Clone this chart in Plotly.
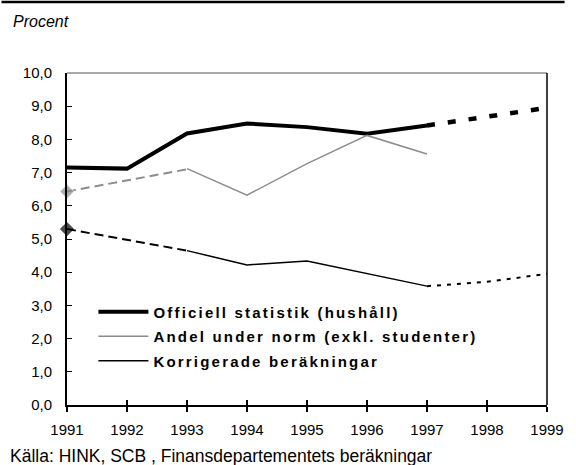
import plotly.graph_objects as go

years = [1991, 1992, 1993, 1994, 1995, 1996, 1997, 1998, 1999]
year_labels = ["1991", "1992", "1993", "1994", "1995", "1996", "1997", "1998", "1999"]
y_ticks = [0, 1, 2, 3, 4, 5, 6, 7, 8, 9, 10]

# Officiell statistik (hushåll)
off_years = [1991, 1992, 1993, 1994, 1995, 1996, 1997]
off_vals = [7.15, 7.12, 8.18, 8.48, 8.37, 8.17, 8.42]
off_fc_years = [1997, 1998, 1999]
off_fc_vals = [8.42, 8.68, 8.95]

# Andel under norm (exkl. studenter)
norm_dash_years = [1991, 1993]
norm_dash_vals = [6.43, 7.1]
norm_years = [1993, 1994, 1995, 1996, 1997]
norm_vals = [7.12, 6.32, 7.27, 8.12, 7.56]

# Korrigerade beräkningar
kor_dash_years = [1991, 1993]
kor_dash_vals = [5.3, 4.65]
kor_years = [1993, 1994, 1995, 1996, 1997]
kor_vals = [4.65, 4.22, 4.34, 3.95, 3.58]
kor_fc_years = [1997, 1998, 1999]
kor_fc_vals = [3.58, 3.71, 3.95]

names = ["Officiell statistik (hushåll)", "Andel under norm (exkl. studenter)", "Korrigerade beräkningar"]
source = "Källa: HINK, SCB , Finansdepartementets beräkningar"

GRAY = "#8c8c8c"
fig = go.Figure()

fig.add_trace(go.Scatter(x=off_years, y=off_vals, mode="lines", name=names[0], legendgroup="a",
                         line=dict(color="black", width=4), cliponaxis=False))
fig.add_trace(go.Scatter(x=norm_years, y=norm_vals, mode="lines", name=names[1], legendgroup="b",
                         line=dict(color=GRAY, width=1.5)))
fig.add_trace(go.Scatter(x=kor_years, y=kor_vals, mode="lines", name=names[2], legendgroup="c",
                         line=dict(color="black", width=1.5)))

fig.add_trace(go.Scatter(x=off_fc_years, y=off_fc_vals, mode="lines", showlegend=False,
                         line=dict(color="black", width=4.5, dash="8px,13px"), cliponaxis=False))
fig.add_trace(go.Scatter(x=norm_dash_years, y=norm_dash_vals, mode="lines+markers", showlegend=False,
                         line=dict(color=GRAY, width=2, dash="9px,5px"),
                         marker=dict(symbol="diamond", size=[11, 0], color=GRAY), cliponaxis=False))
fig.add_trace(go.Scatter(x=kor_dash_years, y=kor_dash_vals, mode="lines+markers", showlegend=False,
                         line=dict(color="black", width=2, dash="9px,5px"),
                         marker=dict(symbol="diamond", size=[11, 0], color="black",
                                     line=dict(width=0)), cliponaxis=False))
fig.add_trace(go.Scatter(x=kor_fc_years, y=kor_fc_vals, mode="lines", showlegend=False,
                         line=dict(color="black", width=2, dash="4px,6px"), cliponaxis=False))

fig.update_layout(
    width=576, height=465,
    margin=dict(l=67, r=18, t=73, b=60),
    paper_bgcolor="white", plot_bgcolor="white",
    separators=", ",
    font=dict(family="Liberation Sans, Arial, sans-serif", size=15, color="black"),
    showlegend=True,
    legend=dict(x=0.055, y=0.33, xanchor="left", yanchor="top", bgcolor="rgba(0,0,0,0)",
                font=dict(family="Liberation Sans, Arial, sans-serif", size=15, weight="bold"),
                itemwidth=50, tracegroupgap=2, traceorder="grouped"),
    xaxis=dict(range=[1991, 1999], tickvals=years, ticktext=year_labels, showgrid=False,
               zeroline=False, showline=True, linecolor="black", linewidth=2,
               ticks="outside", ticklen=5, tickwidth=1.5, tickcolor="black",
               ticklabelstandoff=5),
    xaxis2=dict(range=[1991, 1999], tickvals=years, showticklabels=False, overlaying="x",
                side="bottom", anchor="y", showgrid=False, zeroline=False, showline=False,
                ticks="inside", ticklen=5, tickwidth=1.5, tickcolor="black"),
    yaxis=dict(range=[0, 10], tickvals=y_ticks, tickformat=".1f", showgrid=False,
               zeroline=False, showline=True, linecolor="black", linewidth=2,
               ticks="inside", ticklen=5, tickwidth=1, tickcolor="black",
               ticklabelstandoff=10),
    shapes=[
        dict(type="line", xref="paper", yref="paper", x0=0, x1=1, y0=1, y1=1,
             line=dict(color="#555555", width=1)),
        dict(type="line", xref="paper", yref="paper", x0=1, x1=1, y0=0, y1=1,
             line=dict(color="black", width=1.5)),
        dict(type="line", xref="paper", yref="paper", x0=-67/491, x1=1+18/491, y0=1+71/332, y1=1+71/332,
             line=dict(color="black", width=2.5)),
    ],
    annotations=[
        dict(text="Procent", xref="paper", yref="paper", x=-57/491, y=1+52/332, xanchor="left",
             yanchor="middle", showarrow=False, font=dict(size=16, style="italic")),
        dict(text=source, xref="paper", yref="paper", x=-60/491, y=-51/332, xanchor="left",
             yanchor="middle", showarrow=False, font=dict(size=17.5)),
    ],
)

# invisible helper trace so the overlaying tick axis is drawn
fig.add_trace(go.Scatter(x=[years[0]], y=[y_ticks[0]], xaxis="x2", mode="markers",
                         marker=dict(opacity=0), showlegend=False, hoverinfo="skip"))

post = """
document.body.style.margin='0px';
document.body.style.padding='0px';
function _ls(){
  document.querySelectorAll('.legendtext').forEach(function(e){e.style.letterSpacing='2.2px';});
  document.querySelectorAll('.legend .scrollbox').forEach(function(e){e.removeAttribute('clip-path');});
  document.querySelectorAll('.legend').forEach(function(e){e.style.overflow='visible';});
}
_ls();
var _gd=document.getElementsByClassName('plotly-graph-div')[0];
if(_gd && _gd.on){_gd.on('plotly_afterplot', _ls);}
"""

fig.write_html("out.html", post_script=post, config={"displayModeBar": False})
